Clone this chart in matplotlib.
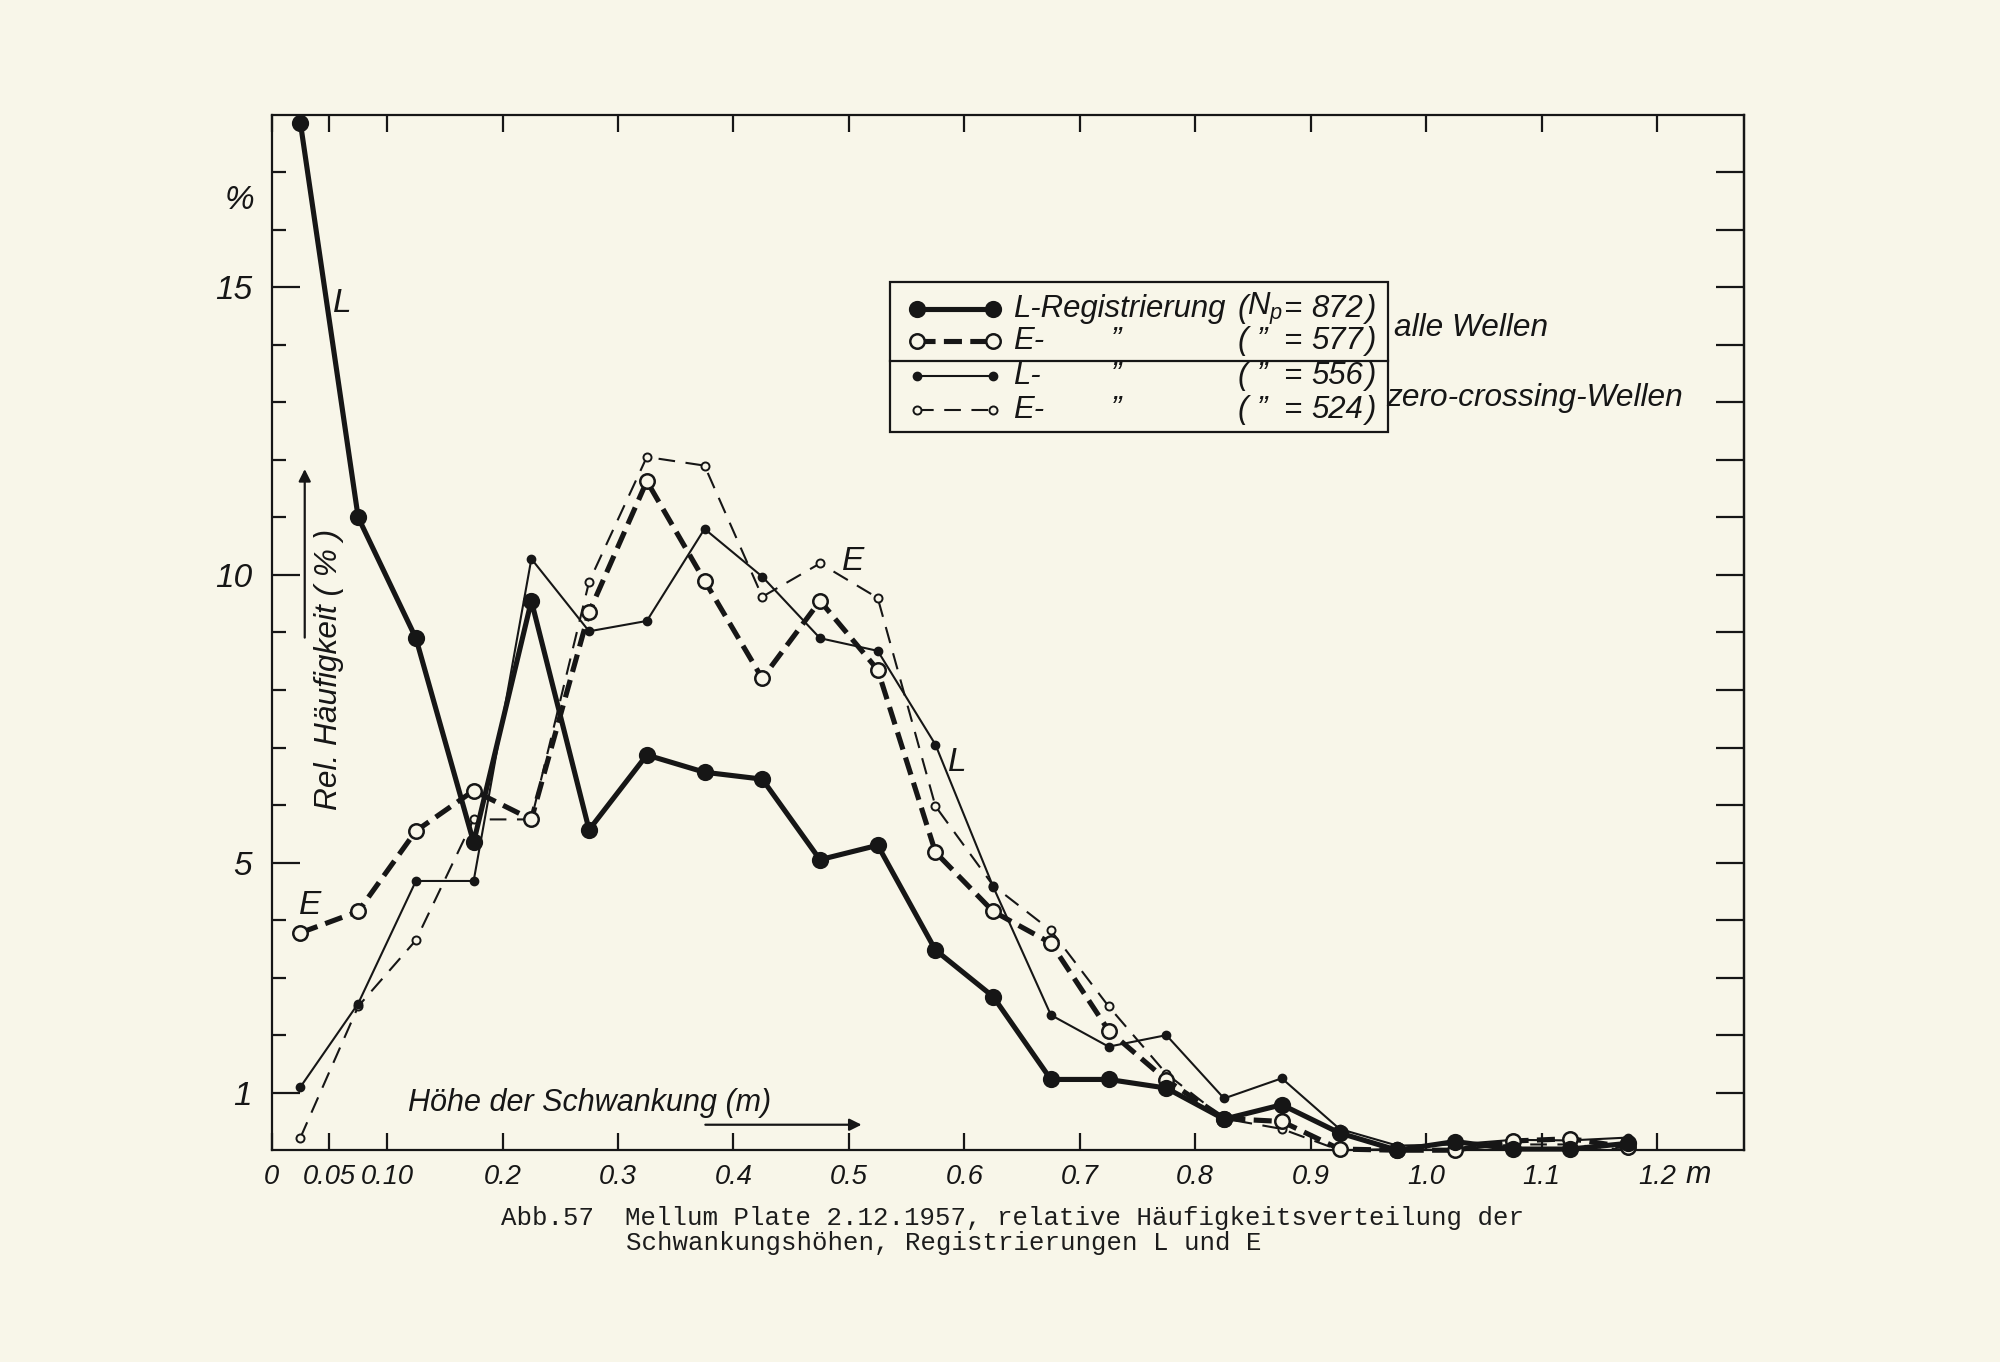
import matplotlib.pyplot as plt
from matplotlib.patches import Rectangle

plt.rcParams['lines.scale_dashes'] = False
plt.rcParams['mathtext.fontset'] = 'custom'
plt.rcParams['mathtext.it'] = 'Liberation Sans:italic'
plt.rcParams['mathtext.rm'] = 'Liberation Sans:italic'

# Klassenmitten der Schwankungshoehe (m)
hoehe = [0.025, 0.075, 0.125, 0.175, 0.225, 0.275, 0.325, 0.375, 0.425, 0.475, 0.525, 0.575,
         0.625, 0.675, 0.725, 0.775, 0.825, 0.875, 0.925, 0.975, 1.025, 1.075, 1.125, 1.175]

# rel. Haeufigkeit (%) - alle Wellen
l_alle = [17.85, 11.0, 8.9, 5.35, 9.55, 5.57, 6.87, 6.57, 6.45, 5.05, 5.3, 3.48,
          2.67, 1.23, 1.23, 1.08, 0.54, 0.79, 0.3, 0.0, 0.15, 0.02, 0.02, 0.12]
e_alle = [3.78, 4.15, 5.55, 6.25, 5.75, 9.35, 11.63, 9.9, 8.2, 9.55, 8.35, 5.18,
          4.15, 3.6, 2.08, 1.22, 0.55, 0.5, 0.02, 0.0, 0.0, 0.16, 0.2, 0.05]
# zero-crossing-Wellen
l_zero = [1.1, 2.55, 4.68, 4.68, 10.28, 9.02, 9.2, 10.8, 9.97, 8.9, 8.68, 7.05,
          4.58, 2.35, 1.8, 2.0, 0.9, 1.25, 0.37, 0.08, 0.1, 0.18, 0.17, 0.22]
e_zero = [0.22, 2.5, 3.65, 5.75, 5.75, 9.88, 12.05, 11.9, 9.62, 10.2, 9.6, 5.98,
          4.6, 3.82, 2.5, 1.33, 0.55, 0.37, 0.0, 0.02, 0.0, 0.1, 0.1, 0.0]

x_ticks = [0, 0.05, 0.10, 0.2, 0.3, 0.4, 0.5, 0.6, 0.7, 0.8, 0.9, 1.0, 1.1, 1.2]
x_labels = ['0', '0.05', '0.10', '0.2', '0.3', '0.4', '0.5', '0.6', '0.7', '0.8', '0.9',
            '1.0', '1.1', '1.2']
y_major = [1, 5, 10, 15]
y_minor = [2, 3, 4, 6, 7, 8, 9, 11, 12, 13, 14, 16, 17]
y_right = list(range(1, 18))

legend_names = ['L-Registrierung', 'E-', 'L-', 'E-']
legend_n = ['872', '577', '556', '524']

paper = '#f8f6e9'
ink = '#161616'
hand = dict(family=['Liberation Sans', 'DejaVu Sans'], style='italic', color=ink)

fig = plt.figure(figsize=(10, 6.81), dpi=200, facecolor=paper)
ax = fig.add_axes([0.1358, 0.1555, 0.7360, 0.7603])
ax.set_facecolor(paper)
ax.set_xlim(0, 1.275)
ax.set_ylim(0, 18)
for s in ax.spines.values():
    s.set_linewidth(0.8)
    s.set_color(ink)

heavy_l = dict(color=ink, lw=1.85, marker='o', ms=5.2, mfc=ink, mec=ink)
heavy_e = dict(color=ink, lw=1.85, dashes=(6.5, 3.0), marker='o', ms=5.2, mfc=paper, mec=ink, mew=0.9)
thin_l = dict(color=ink, lw=0.75, marker='o', ms=2.5, mfc=ink, mec=ink)
thin_e = dict(color=ink, lw=0.75, dashes=(6.0, 3.8), marker='o', ms=2.9, mfc=paper, mec=ink, mew=0.7)

ax.plot(hoehe, e_zero, clip_on=False, zorder=3, **thin_e)
ax.plot(hoehe, l_zero, clip_on=False, zorder=3, **thin_l)
ax.plot(hoehe, e_alle, clip_on=False, zorder=4, **heavy_e)
ax.plot(hoehe, l_alle, clip_on=False, zorder=5, **heavy_l)

# Achsen / Striche
ax.set_xticks(x_ticks)
ax.set_xticklabels(x_labels, fontsize=9.8, **hand)
ax.tick_params(axis='x', direction='in', top=True, length=6, width=0.8, pad=5, color=ink)
ax.set_yticks(y_major)
ax.set_yticklabels([str(v) for v in y_major], fontsize=12, **hand)
ax.set_yticks(y_minor, minor=True)
ax.tick_params(axis='y', which='major', direction='in', length=10, width=0.8, pad=7, color=ink)
ax.tick_params(axis='y', which='minor', direction='in', length=5, width=0.8, color=ink)
rax = ax.secondary_yaxis('right')
rax.set_yticks(y_right)
rax.set_yticklabels([])
rax.tick_params(direction='in', length=10, width=0.8, color=ink)
rax.spines['right'].set_linewidth(0.8)

ax.text(1.236, -0.0235, 'm', transform=ax.get_xaxis_transform(), ha='center', va='center',
        fontsize=11, **hand)
ax.text(-0.022, 16.5, '%', transform=ax.get_yaxis_transform(), ha='center', va='center',
        fontsize=12, **hand)

# Beschriftung im Diagramm
ax.text(0.0608, 14.72, 'L', ha='center', va='center', fontsize=12, **hand)
ax.text(0.0331, 4.26, 'E', ha='center', va='center', fontsize=12, **hand)
ax.text(0.504, 10.24, 'E', ha='center', va='center', fontsize=12, **hand)
ax.text(0.594, 6.74, 'L', ha='center', va='center', fontsize=12, **hand)

ax.text(0.1182, 0.82, 'Höhe der Schwankung (m)', ha='left', va='center', fontsize=11, **hand)
ax.annotate('', xy=(0.511, 0.443), xytext=(0.3757, 0.443),
            arrowprops=dict(arrowstyle='-|>', lw=0.8, color=ink, mutation_scale=9,
                            shrinkA=0, shrinkB=0))
ax.text(0.0497, 8.36, 'Rel. Häufigkeit ( % )', rotation=90, ha='center', va='center',
        fontsize=11.4, **hand)
ax.annotate('', xy=(0.0287, 11.84), xytext=(0.0287, 8.91),
            arrowprops=dict(arrowstyle='-|>', lw=0.8, color=ink, mutation_scale=9,
                            shrinkA=0, shrinkB=0))

# Legende (von Hand)
ax.add_patch(Rectangle((0.536, 12.48), 0.431, 2.62, fill=False, lw=0.8, ec=ink, zorder=6))
ax.plot([0.536, 0.967], [13.72, 13.72], color=ink, lw=0.8, zorder=6)
rows_y = [14.63, 14.06, 13.46, 12.86]
styles = [heavy_l, heavy_e, thin_l, thin_e]
for y, st in zip(rows_y, styles):
    ax.plot([0.5586, 0.6245], [y, y], zorder=7, **st)

lg = dict(va='center', fontsize=11.2, **hand)
for i, (y, name, n) in enumerate(zip(rows_y, legend_names, legend_n)):
    ax.text(0.6420, y, name, ha='left', **lg)
    ax.text(0.8365, y, '(', ha='left', **lg)
    if i == 0:
        ax.text(0.8600, y, '$N_p$', ha='center', **lg)
    else:
        ax.text(0.7315, y, '”', ha='center', **lg)
        ax.text(0.8580, y, '”', ha='center', **lg)
    ax.text(0.8835, y, '=', ha='center', **lg)
    ax.text(0.9005, y, n, ha='left', **lg)
    ax.text(0.9560, y, ')', ha='right', **lg)

ax.text(0.9724, 14.3, 'alle Wellen', ha='left', va='center', fontsize=11.4, **hand)
ax.text(0.9657, 13.08, 'zero-crossing-Wellen', ha='left', va='center', fontsize=11.4, **hand)

# Bildunterschrift
mono = dict(family=['Liberation Mono', 'DejaVu Sans Mono'], fontsize=9.25, color='#1c1c1c')
fig.text(0.2506, 0.1058, 'Abb.57  Mellum Plate 2.12.1957, relative Häufigkeitsverteilung der',
         ha='left', va='center', **mono)
fig.text(0.3131, 0.0871, 'Schwankungshöhen, Registrierungen L und E', ha='left', va='center', **mono)

fig.savefig('out.png', dpi=200, facecolor=paper)
